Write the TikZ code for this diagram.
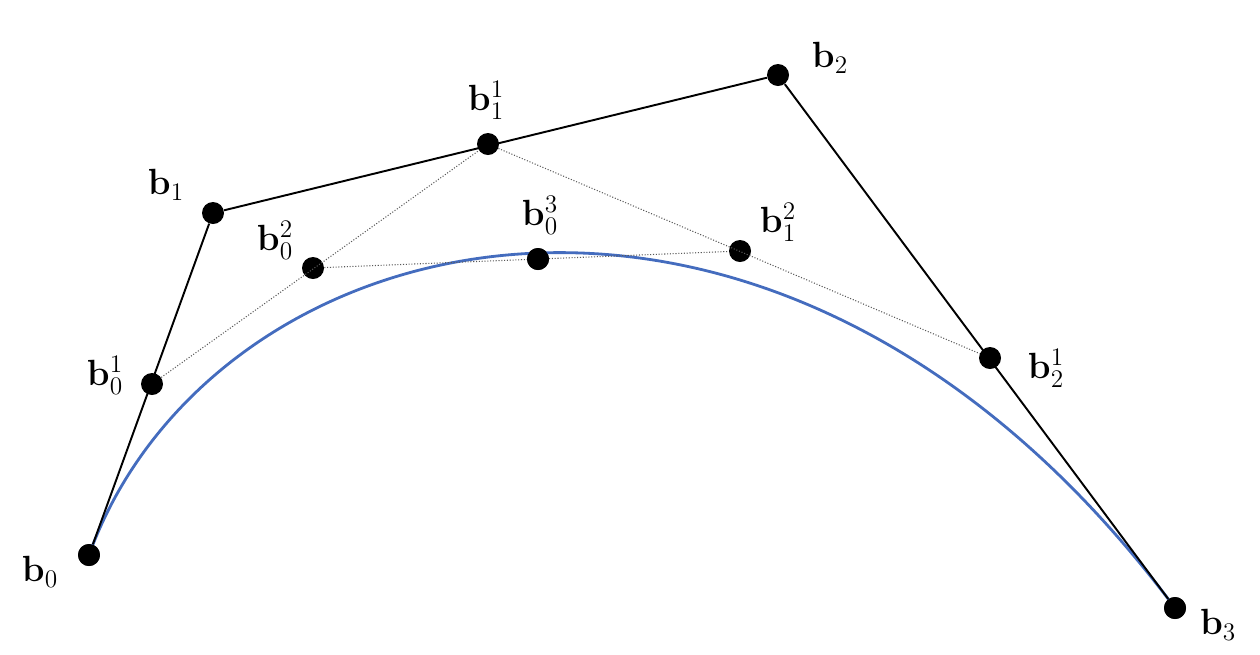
\documentclass[tikz,border=0pt]{standalone}
\usetikzlibrary{positioning}
\usepackage{amsmath}
\definecolor{curveblue}{RGB}{68,108,190}

\begin{document}
\begin{tikzpicture}[x=0.02cm, y=-0.02cm]
                \tikzstyle{pt} = [circle, fill=black, inner sep=0pt, minimum size=0.44cm]
                \tikzstyle{lbl} = [font=\huge]
                \tikzstyle{poly} = [draw, line width=1.1pt]
                \tikzstyle{aux} = [draw, densely dotted, gray!70!black, line width=0.6pt]
                \useasboundingbox (0,0) rectangle (1260,654);

                % control points
                \node[pt] (b0) at (89,555) {};
                \node[pt] (b1) at (213,213) {};
                \node[pt] (b2) at (778,75) {};
                \node[pt] (b3) at (1175,608) {};
                % de Casteljau points
                \node[pt] (b01) at (152,384) {};
                \node[pt] (b11) at (488,144) {};
                \node[pt] (b21) at (990,358) {};
                \node[pt] (b02) at (313,268) {};
                \node[pt] (b12) at (740,251) {};
                \node[pt] (b03) at (538,259) {};

                \draw[curveblue, line width=1.6pt] (b0.center) .. controls (b1.center) and (b2.center) .. (b3.center);
                \draw[poly] (b0) -- (b1) -- (b2) -- (b3);
                \draw[aux] (b01) -- (b11) -- (b21);
                \draw[aux] (b02) -- (b12);

                \node[pt] at (b0) {};
                \node[pt] at (b3) {};
                \node[pt] at (b03) {};

                \node[lbl] at (40,572) {$\mathbf{b}_0$};
                \node[lbl] at (166,185) {$\mathbf{b}_1$};
                \node[lbl] at (830,58) {$\mathbf{b}_2$};
                \node[lbl] at (1218,625) {$\mathbf{b}_3$};
                \node[lbl] at (105,375) {$\mathbf{b}_0^1$};
                \node[lbl] at (486,100) {$\mathbf{b}_1^1$};
                \node[lbl] at (1046,368) {$\mathbf{b}_2^1$};
                \node[lbl] at (275,240) {$\mathbf{b}_0^2$};
                \node[lbl] at (778,222) {$\mathbf{b}_1^2$};
                \node[lbl] at (540,215) {$\mathbf{b}_0^3$};
\end{tikzpicture}
\end{document}
